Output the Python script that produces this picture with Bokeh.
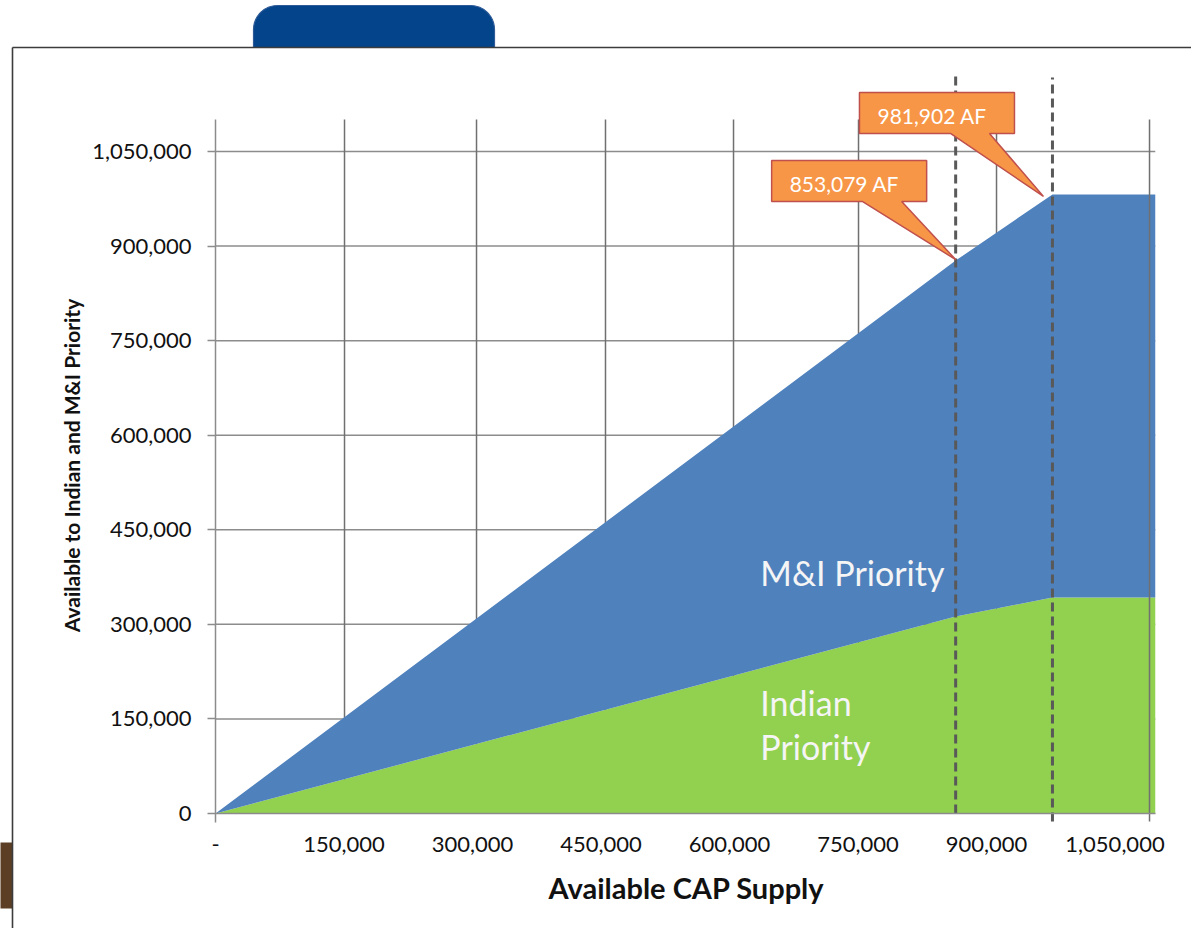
import numpy as np
from bokeh.plotting import figure
from bokeh.models import ColumnDataSource, FixedTicker, NumeralTickFormatter, Range1d
from bokeh.core.properties import value
from bokeh.embed import file_html
from bokeh.resources import INLINE

# ---------------- data ----------------
supply = [0, 864000, 977000, 1097000]          # Available CAP Supply
indian = [0, 312500, 342600, 342600]           # Indian Priority
mi = [0, 564500, 639302, 639302]               # M&I Priority (stacked on Indian)
x_ticks = [0, 150000, 300000, 450000, 600000, 750000, 900000, 1050000]
y_ticks = [0, 150000, 300000, 450000, 600000, 750000, 900000, 1050000]
grid_x = [150600, 304700, 455250, 604700, 750600, 911700]
edge_x = [1090300]
marker_x = [864000, 977000]
callout_labels = ["853,079 AF", "981,902 AF"]
area_labels = ["M&I Priority", "Indian", "Priority"]
x_title = "Available CAP Supply"
y_title = "Available to Indian and M&I Priority"

FONT = "Lato"
W, H = 1191, 928
X0, Y0 = 215, 813                 # pixel position of the data origin
ux, uy = 150000 / 128.5, 150000 / 94.57   # data units per pixel


def X(px):
    return (px - X0) * ux


def Y(py):
    return (Y0 - py) * uy


total = [a + b for a, b in zip(indian, mi)]
src = ColumnDataSource(dict(supply=supply, indian=indian, mi=mi))

p = figure(width=W, height=H, output_backend="svg", toolbar_location=None,
           x_range=Range1d(X(0), X(W)), y_range=Range1d(Y(H), Y(0)), min_border=0)
p.outline_line_color = None
p.background_fill_color = "white"
p.border_fill_color = "white"
p.xgrid.visible = False
p.ygrid.visible = False

# ---- slide decorations: tab, brown mark, frame lines ----
r = 24
ang = np.linspace(np.pi, np.pi / 2, 12)
tab_px = [(253, 47)] + [(253 + r + r * np.cos(a), 5 + r - r * np.sin(a)) for a in ang]
ang2 = np.linspace(np.pi / 2, 0, 12)
tab_px += [(494 - r + r * np.cos(a), 5 + r - r * np.sin(a)) for a in ang2] + [(494, 47)]
p.patch(x=[X(a) for a, b in tab_px], y=[Y(b) for a, b in tab_px],
        fill_color="#03448A", line_color="#2E5B98", line_width=1.2)
p.quad(left=[X(-2)], right=[X(12)], top=[Y(842)], bottom=[Y(908)],
       fill_color="#5B3E24", line_color=None)
p.segment(x0=[X(12), X(12)], y0=[Y(47), Y(47)], x1=[X(W + 5), X(12)], y1=[Y(47), Y(H + 5)],
          line_color="#3C3C3C", line_width=1.6)

# ---- gridlines ----
top_grid = 1100700
p.segment(x0=[0] * (len(y_ticks) - 1), y0=y_ticks[1:], x1=[supply[-1]] * (len(y_ticks) - 1),
          y1=y_ticks[1:], line_color="#8C8C8C", line_width=1.5)
p.segment(x0=grid_x, y0=[0] * len(grid_x), x1=grid_x, y1=[top_grid] * len(grid_x),
          line_color="#707070", line_width=1.5)

# ---- stacked areas ----
p.varea_stack(["indian", "mi"], x="supply", source=src, color=["#92D050", "#4F81BD"])

p.segment(x0=edge_x, y0=[-8 * uy], x1=edge_x, y1=[top_grid], line_color="#707070", line_width=1.5)

# ---- dashed markers ----
p.segment(x0=marker_x, y0=[0, -8 * uy], x1=marker_x, y1=[Y(73), Y(77)],
          line_color="#595959", line_width=3, line_dash="9 5")

# ---- area labels ----
p.text(x=[636000, 636000, 636000], y=[382000, 176000, 106000], text=area_labels,
       text_font=value(FONT), text_font_size="34px", text_color="#F5F5F5",
       text_baseline="middle", text_align="left")

# ---- callouts ----
tips = [(marker_x[0], total[1] + 1 * uy), (marker_x[1] - 9 * ux, total[2] - 2 * uy)]
lifts = [0, 5]
xs, ys, tx, ty = [], [], [], []
for (cx, cy), lift in zip(tips, lifts):
    pts = [(-184, 99 + lift), (-29, 99 + lift), (-29, 58 + lift), (-54, 58 + lift), (0, 0),
           (-93, 58 + lift), (-184, 58 + lift)]
    xs.append([cx + dx * ux for dx, dy in pts])
    ys.append([cy + dy * uy for dx, dy in pts])
    tx.append(cx - 166 * ux)
    ty.append(cy + (76 + lift) * uy)
p.patches(xs=xs, ys=ys, fill_color="#F79646", line_color="#C0504D", line_width=1.5)
p.text(x=tx, y=ty, text=callout_labels, text_font=value(FONT), text_font_size="21px",
       text_color="white", text_baseline="middle", text_align="left")

# ---- axes (fixed at the data origin) ----
xa = p.xaxis[0]
xa.fixed_location = 0
xa.ticker = FixedTicker(ticks=x_ticks)
xa.formatter = NumeralTickFormatter(format="0,0")
xa.major_label_overrides = {0: "-"}
xa.bounds = (0, supply[-1])
xa.major_tick_out = 0
xa.major_tick_in = 0
xa.minor_tick_out = 0
xa.minor_tick_in = 0
xa.axis_line_color = "#8C8C8C"
xa.axis_line_width = 1.5
xa.major_label_text_font = FONT
xa.major_label_text_font_size = "22px"
xa.major_label_text_color = "#111111"
xa.major_label_standoff = 23

ya = p.yaxis[0]
ya.fixed_location = 0
ya.ticker = FixedTicker(ticks=y_ticks)
ya.formatter = NumeralTickFormatter(format="0,0")
ya.bounds = (-9 * uy, top_grid)
ya.major_tick_out = 8
ya.major_tick_in = 0
ya.minor_tick_out = 0
ya.minor_tick_in = 0
ya.major_tick_line_color = "#8C8C8C"
ya.major_tick_line_width = 1.5
ya.axis_line_color = "#8C8C8C"
ya.axis_line_width = 1.5
ya.major_label_text_font = FONT
ya.major_label_text_font_size = "22px"
ya.major_label_text_color = "#111111"
ya.major_label_standoff = 16

# ---- axis titles ----
p.text(x=[X(686)], y=[Y(887)], text=[x_title], text_font=value(FONT),
       text_font_style="bold", text_font_size="29px", text_color="#111111",
       text_align="center", text_baseline="middle")
p.text(x=[X(71)], y=[Y(465)], text=[y_title], angle=np.pi / 2, text_font=value(FONT),
       text_font_style="bold", text_font_size="21px", text_color="#111111",
       text_align="center", text_baseline="middle")

open("out.html", "w").write(file_html(p, INLINE))
